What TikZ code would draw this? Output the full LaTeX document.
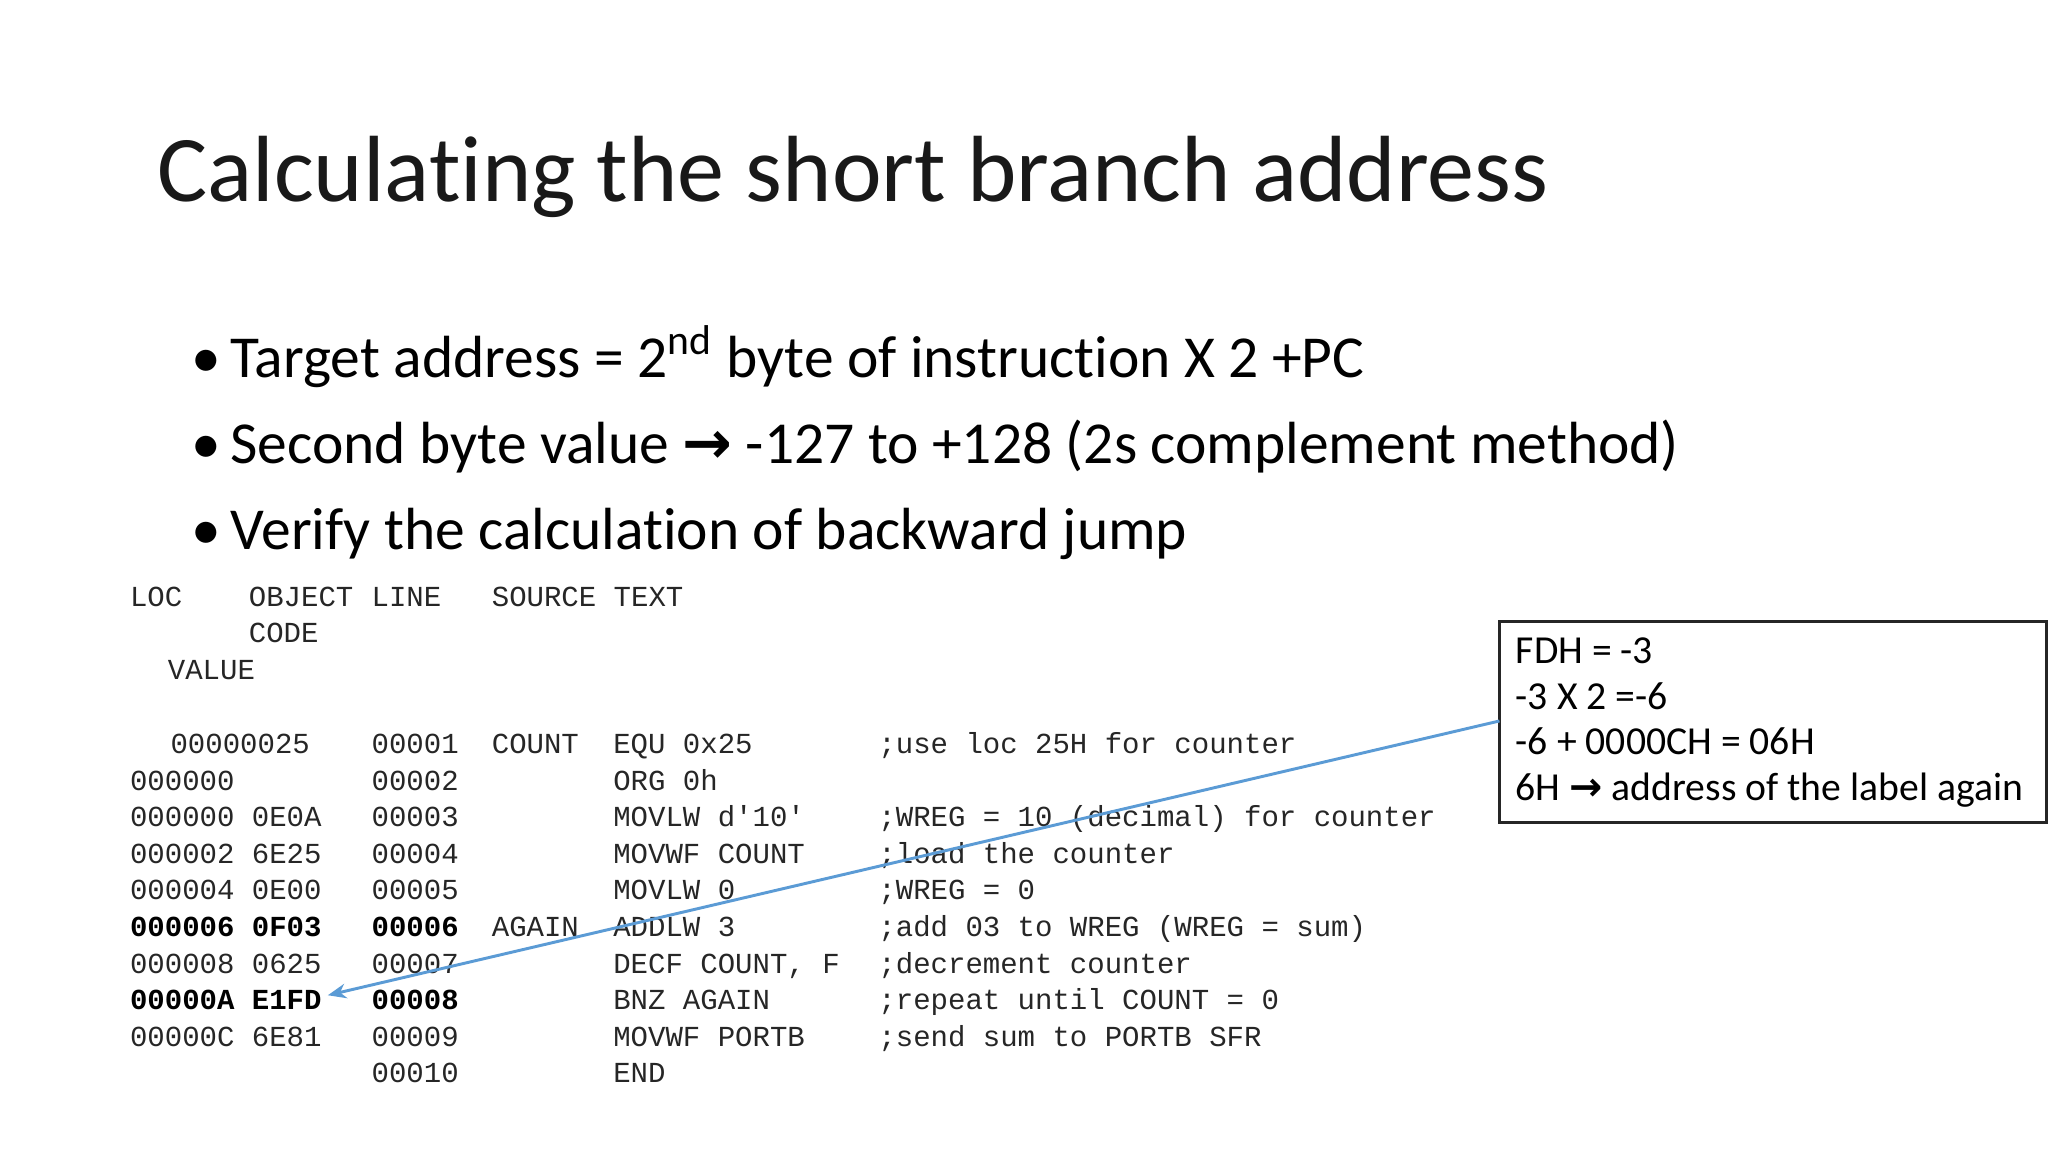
\documentclass[tikz,border=0pt]{standalone}
\usepackage{fontspec}
\usetikzlibrary{arrows.meta}
\setmainfont{Carlito}[Ligatures={NoCommon}]
\newfontfamily\cmono{Liberation Mono}
\newfontfamily\arr{DejaVu Sans}
\begin{document}
\begin{tikzpicture}[x=0.0125cm,y=-0.0125cm,
  code/.style={anchor=base west,inner sep=0,font=\cmono\fontsize{7.9}{9}\selectfont,text=black!85},
  bcode/.style={code,font=\cmono\bfseries\fontsize{7.9}{9}\selectfont,text=black},
  bul/.style={anchor=base west,inner sep=0,font=\fontsize{16.2}{20}\selectfont},
  boxt/.style={anchor=base west,inner sep=0,font=\fontsize{10.8}{14}\selectfont}]
\useasboundingbox (0,0) rectangle (1568,882);
\node[anchor=base west,inner sep=0,font=\fontsize{25.6}{32}\selectfont,text=black!90] (title) at (120,154) {Calculating the short branch address};
\node[bul] (d1) at (146,289) {•}; \node[bul] (b1) at (176,289) {Target address = 2\textsuperscript{nd} byte of instruction X 2 +PC};
\node[bul] (d2) at (146,355) {•}; \node[bul] (b2) at (176,355) {Second byte value {\arr\bfseries →} -127 to +128 (2s complement method)};
\node[bul] (d3) at (146,421) {•}; \node[bul] (b3) at (176,421) {Verify the calculation of backward jump};
% header
\node[code] (h1) at (99,464) {LOC}; \node[code] (h2) at (190,464) {OBJECT}; \node[code] (h3) at (284,464) {LINE}; \node[code] (h4) at (376,464) {SOURCE TEXT};
\node[code] (h5) at (190,492) {CODE}; \node[code] (h6) at (128,520) {VALUE};
% rows
\node[code] (r1a) at (130,577) {00000025}; \node[code] (r1b) at (284,577) {00001}; \node[code] (r1c) at (376,577) {COUNT}; \node[code] (r1d) at (469,577) {EQU 0x25}; \node[code] (r1e) at (672,577) {;use loc 25H for counter};
\node[code] (r2a) at (99,605) {000000}; \node[code] (r2b) at (284,605) {00002}; \node[code] (r2d) at (469,605) {ORG 0h};
\node[code] (r3a) at (99,633) {000000 0E0A}; \node[code] (r3b) at (284,633) {00003}; \node[code] (r3d) at (469,633) {MOVLW d'10'}; \node[code] (r3e) at (672,633) {;WREG = 10 (decimal) for counter};
\node[code] (r4a) at (99,661) {000002 6E25}; \node[code] (r4b) at (284,661) {00004}; \node[code] (r4d) at (469,661) {MOVWF COUNT}; \node[code] (r4e) at (672,661) {;load the counter};
\node[code] (r5a) at (99,689) {000004 0E00}; \node[code] (r5b) at (284,689) {00005}; \node[code] (r5d) at (469,689) {MOVLW 0}; \node[code] (r5e) at (672,689) {;WREG = 0};
\node[bcode] (r6a) at (99,717) {000006 0F03}; \node[bcode] (r6b) at (284,717) {00006}; \node[code] (r6c) at (376,717) {AGAIN}; \node[code] (r6d) at (469,717) {ADDLW 3}; \node[code] (r6e) at (672,717) {;add 03 to WREG (WREG = sum)};
\node[code] (r7a) at (99,745) {000008 0625}; \node[code] (r7b) at (284,745) {00007}; \node[code] (r7d) at (469,745) {DECF COUNT, F}; \node[code] (r7e) at (672,745) {;decrement counter};
\node[bcode] (r8a) at (99,773) {00000A E1FD}; \node[bcode] (r8b) at (284,773) {00008}; \node[code] (r8d) at (469,773) {BNZ AGAIN}; \node[code] (r8e) at (672,773) {;repeat until COUNT = 0};
\node[code] (r9a) at (99,801) {00000C 6E81}; \node[code] (r9b) at (284,801) {00009}; \node[code] (r9d) at (469,801) {MOVWF PORTB}; \node[code] (r9e) at (672,801) {;send sum to PORTB SFR};
\node[code] (r10b) at (284,829) {00010}; \node[code] (r10d) at (469,829) {END};
% box
\draw[black!85,line width=0.8pt] (1148,476) rectangle (1567,630);
\coordinate (bw) at (1148,552);
\node[boxt] (t1) at (1160,508) {FDH = -3};
\node[boxt] (t2) at (1160,543) {-3 X 2 =-6};
\node[boxt] (t3) at (1160,578) {-6 + 0000CH = 06H};
\node[boxt] (t4) at (1160,613) {6H {\arr\bfseries →} address of the label again};
\coordinate (tgt) at (251,762);
\draw[-{Stealth[length=5pt,width=4pt]},color={rgb,255:red,91;green,155;blue,213},line width=0.8pt] (bw) -- (tgt);
\end{tikzpicture}
\end{document}
